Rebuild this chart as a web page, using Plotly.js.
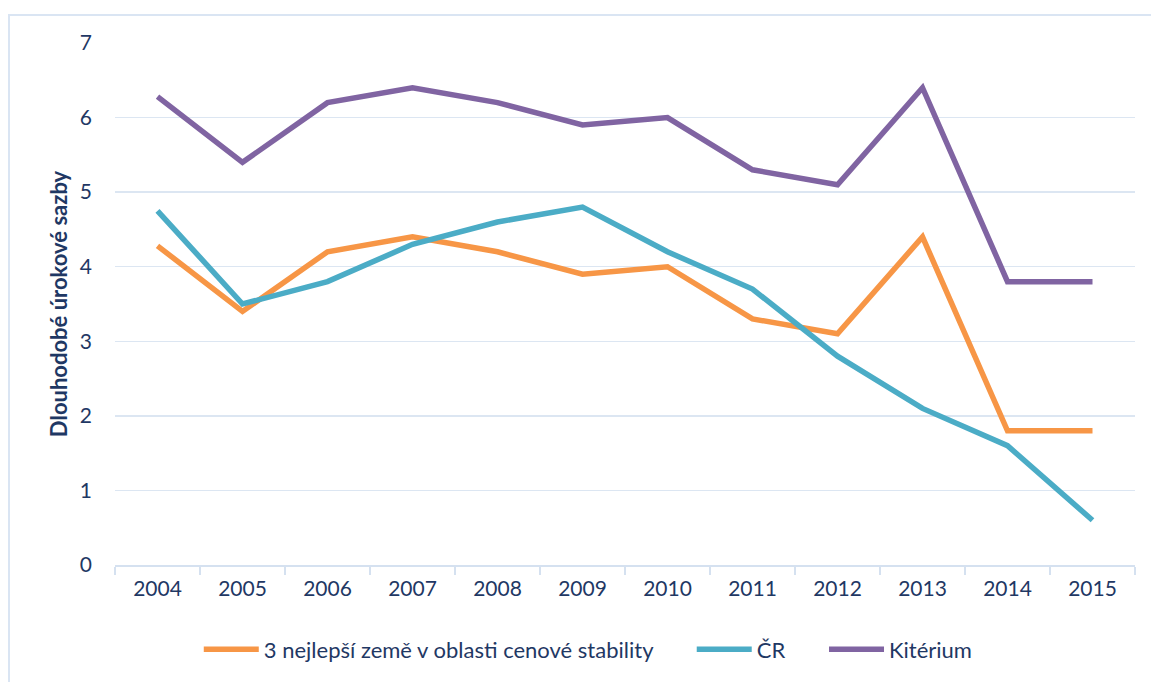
<!DOCTYPE html>
<html><head><meta charset="utf-8">
<script src="https://cdn.plot.ly/plotly-3.0.1.min.js"></script>
<style>
body{margin:0;padding:0;background:#fff;}
#wrap{position:relative;width:1151px;height:682px;overflow:hidden;}
#frame{position:absolute;left:8px;top:14px;width:1200px;height:700px;border-left:2px solid #dae5f3;border-top:2px solid #dae5f3;pointer-events:none;}
#chart{position:absolute;left:0;top:0;width:1151px;height:682px;}
</style></head>
<body><div id="wrap"><div id="chart"></div><div id="frame"></div></div>
<script>
const years = ['2004','2005','2006','2007','2008','2009','2010','2011','2012','2013','2014','2015'];
const best3 = [4.28,3.4,4.2,4.4,4.2,3.9,4.0,3.3,3.1,4.4,1.8,1.8];
const cr = [4.75,3.5,3.8,4.3,4.6,4.8,4.2,3.7,2.8,2.1,1.6,0.6];
const kriterium = [6.28,5.4,6.2,6.4,6.2,5.9,6.0,5.3,5.1,6.4,3.8,3.8];
const names = ['3 nejlepší země v oblasti cenové stability','ČR','Kitérium'];
const colors = ['#F79646','#4BACC6','#8064A2'];
const series = [best3, cr, kriterium];
const pad = '\u00a0'.repeat(6);

const traces = series.map((s,i)=>({
  x: years, y: s, name: names[i] + (i < 2 ? pad : ''), type:'scatter', mode:'lines',
  line:{color:colors[i], width:5.5}
}));
const font = "Lato, Open Sans, sans-serif";
const layout = {
  width:1151, height:682,
  margin:{l:115, r:16, t:43, b:115},
  paper_bgcolor:'rgba(0,0,0,0)', plot_bgcolor:'#fff',
  font:{family:font, color:'#1f3864', size:21},
  xaxis:{type:'category', range:[-0.5,11.5], tickson:'boundaries', ticks:'outside', ticklen:8,
    tickcolor:'#d5e1f0', tickwidth:2, showline:true, linecolor:'#d5e1f0', linewidth:2,
    showgrid:false, tickfont:{size:21, color:'#1f3864'}, fixedrange:true, ticklabelstandoff:4},
  yaxis:{range:[0,7], dtick:1, showgrid:true, gridcolor:'#dce6f2', gridwidth:1.5,
    zeroline:false, showline:false, ticklabelstandoff:22, tickfont:{size:21,color:'#1f3864'},
    title:{text:'Dlouhodobé úrokové sazby', font:{size:22, color:'#1f3864', family:font, weight:'bold'}, standoff:6}},
  legend:{orientation:'h', x:0.464, xanchor:'center', y:-0.162, yanchor:'middle',
    font:{size:22, color:'#1f3864'}, itemwidth:55, tracegroupgap:0},
  showlegend:true
};
Plotly.newPlot('chart', traces, layout, {displayModeBar:false, staticPlot:true});
</script></body></html>
